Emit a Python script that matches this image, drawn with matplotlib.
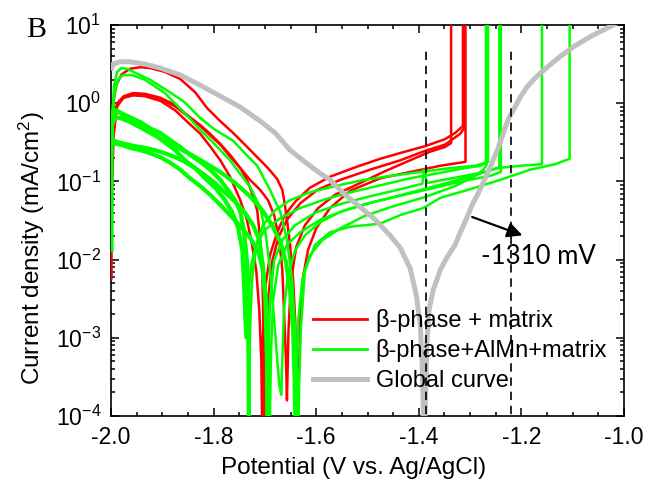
import numpy as np
import matplotlib
matplotlib.use("Agg")
import matplotlib.pyplot as plt
from matplotlib.ticker import LogLocator, MultipleLocator, FuncFormatter, NullFormatter

# ---------------- polarization data: potential (V vs. Ag/AgCl), log10 current density (mA/cm2)
# beta-phase + matrix scans
red1_E = [-1.999, -1.996, -1.990, -1.979, -1.963, -1.943, -1.924, -1.895, -1.865, -1.836, -1.813,
          -1.787, -1.762, -1.739, -1.715, -1.694, -1.676, -1.666, -1.661, -1.657, -1.651, -1.645,
          -1.641, -1.638, -1.636, -1.634, -1.631, -1.626, -1.616, -1.600, -1.573, -1.534, -1.475,
          -1.417, -1.358, -1.309, -1.309]
red1_logj = [-0.47, -0.02, 0.23, 0.37, 0.44, 0.46, 0.45, 0.40, 0.31, 0.14, -0.06,
             -0.23, -0.38, -0.53, -0.69, -0.83, -0.97, -1.11, -1.30, -1.49, -1.81, -2.26,
             -2.77, -3.41, -4.30, -3.54, -2.77, -2.24, -1.88, -1.60, -1.34, -1.12, -0.96,
             -0.88, -0.80, -0.75, 1.10]

red2_E = [-1.999, -1.996, -1.988, -1.975, -1.957, -1.934, -1.904, -1.875, -1.846, -1.826, -1.807,
          -1.787, -1.768, -1.748, -1.735, -1.725, -1.715, -1.709, -1.705, -1.703, -1.701, -1.700,
          -1.698, -1.694, -1.686, -1.674, -1.657, -1.631, -1.598, -1.553, -1.495, -1.436, -1.388,
          -1.349, -1.319, -1.312, -1.312]
red2_logj = [-0.73, -0.21, 0.00, 0.09, 0.13, 0.12, 0.07, -0.02, -0.18, -0.28, -0.39,
             -0.52, -0.66, -0.83, -0.98, -1.15, -1.37, -1.75, -2.13, -2.77, -3.41, -4.30,
             -3.28, -2.52, -2.03, -1.72, -1.49, -1.28, -1.11, -0.98, -0.85, -0.73, -0.61,
             -0.53, -0.39, -0.32, 1.10]

red3_E = [-1.999, -1.998, -1.994, -1.986, -1.975, -1.957, -1.934, -1.904, -1.875, -1.846, -1.826,
          -1.807, -1.787, -1.768, -1.748, -1.735, -1.725, -1.717, -1.711, -1.707, -1.705,
          -1.704, -1.700, -1.690, -1.676, -1.661, -1.641, -1.612, -1.573, -1.524, -1.475, -1.427,
          -1.388, -1.349, -1.329, -1.314, -1.314]
red3_logj = [-1.24, -0.60, -0.15, -0.01, 0.07, 0.10, 0.09, 0.03, -0.09, -0.27, -0.39,
             -0.55, -0.73, -0.94, -1.24, -1.49, -1.81, -2.13, -2.64, -3.28, -4.30,
             -3.03, -2.39, -1.94, -1.65, -1.43, -1.26, -1.08, -0.94, -0.82, -0.71, -0.62,
             -0.55, -0.46, -0.38, -0.29, 1.10]

red4_E = [-1.999, -1.999, -1.998, -1.995, -1.988, -1.975, -1.957, -1.934, -1.904, -1.875, -1.846,
          -1.826, -1.807, -1.787, -1.768, -1.748, -1.729, -1.709, -1.694, -1.682, -1.672, -1.666,
          -1.662, -1.659, -1.657, -1.654, -1.649, -1.639, -1.622, -1.596, -1.563, -1.514, -1.466,
          -1.417, -1.378, -1.349, -1.337, -1.337]
red4_logj = [-2.24, -1.75, -1.11, -0.41, -0.04, 0.08, 0.12, 0.10, 0.05, -0.04, -0.19,
             -0.29, -0.41, -0.53, -0.68, -0.83, -0.98, -1.11, -1.24, -1.43, -1.75, -2.13,
             -2.77, -3.28, -3.80, -2.90, -2.26, -1.84, -1.56, -1.34, -1.17, -1.02, -0.87,
             -0.73, -0.62, -0.56, -0.51, 1.10]

# beta-phase + AlMn + matrix scans
green1_E = [-1.999, -1.999, -1.998, -1.994, -1.988, -1.980, -1.969, -1.953, -1.924, -1.885, -1.856,
            -1.826, -1.797, -1.762, -1.739, -1.715, -1.690, -1.670, -1.657, -1.647, -1.641, -1.637,
            -1.635, -1.633, -1.630, -1.622, -1.602, -1.573, -1.534, -1.475, -1.436, -1.391, -1.358,
            -1.300, -1.241, -1.183, -1.134, -1.106, -1.106]
green1_logj = [-1.81, -0.98, -0.21, 0.23, 0.40, 0.45, 0.44, 0.39, 0.30, 0.14, 0.01,
               -0.19, -0.34, -0.48, -0.64, -0.80, -1.11, -1.39, -1.75, -2.26, -2.90, -3.54,
               -4.30, -3.54, -2.90, -2.13, -1.81, -1.65, -1.58, -1.54, -1.43, -1.34, -1.21,
               -1.10, -0.98, -0.85, -0.78, -0.71, 1.10]

green2_E = [-1.998, -1.994, -1.986, -1.977, -1.959, -1.934, -1.895, -1.856, -1.826, -1.797, -1.768,
            -1.729, -1.709, -1.698, -1.690, -1.682, -1.676, -1.672, -1.668,
            -1.666, -1.663, -1.655, -1.641, -1.622, -1.592, -1.553, -1.505, -1.456, -1.397, -1.339,
            -1.290, -1.247, -1.202, -1.160, -1.160]
green2_logj = [-0.47, 0.10, 0.30, 0.36, 0.36, 0.30, 0.13, -0.13, -0.34, -0.53, -0.73,
               -1.07, -1.33, -1.69, -2.13, -2.77, -3.28, -3.60, -3.73,
               -3.28, -2.64, -2.20, -1.88, -1.69, -1.52, -1.39, -1.29, -1.21, -1.11, -1.01,
               -0.92, -0.83, -0.80, -0.78, 1.10]

green3_E = [-1.999, -1.999, -1.998, -1.990, -1.979, -1.963, -1.943, -1.924, -1.904, -1.885, -1.865,
            -1.846, -1.826, -1.807, -1.787, -1.772, -1.758, -1.748, -1.741, -1.735, -1.733, -1.732,
            -1.731, -1.729, -1.725, -1.717, -1.704, -1.680, -1.651, -1.612, -1.563, -1.514, -1.456,
            -1.397, -1.339, -1.290, -1.269, -1.269]
green3_logj = [-1.88, -0.73, -0.11, -0.09, -0.13, -0.18, -0.24, -0.32, -0.38, -0.47, -0.56,
               -0.66, -0.75, -0.85, -0.98, -1.11, -1.24, -1.39, -1.62, -2.01, -2.52, -3.28,
               -4.30, -2.90, -2.26, -1.81, -1.56, -1.37, -1.24, -1.14, -1.06, -0.99, -0.93,
               -0.88, -0.83, -0.80, -0.76, 1.10]

green4_E = [-1.998, -1.986, -1.973, -1.953, -1.934, -1.914, -1.895, -1.875, -1.856, -1.836, -1.817,
            -1.797, -1.778, -1.764, -1.752, -1.744, -1.741, -1.738, -1.736,
            -1.733, -1.727, -1.717, -1.700, -1.670, -1.631, -1.583, -1.534, -1.475, -1.417, -1.358,
            -1.310, -1.280, -1.265, -1.265]
green4_logj = [-0.15, -0.11, -0.16, -0.25, -0.34, -0.41, -0.50, -0.60, -0.73, -0.83, -0.96,
               -1.08, -1.24, -1.39, -1.60, -1.88, -2.26, -2.77, -2.99,
               -2.52, -2.07, -1.81, -1.62, -1.47, -1.34, -1.23, -1.14, -1.05, -0.96, -0.89,
               -0.83, -0.80, -0.75, 1.10]

green5_E = [-1.998, -1.986, -1.973, -1.953, -1.934, -1.914, -1.895, -1.875, -1.856, -1.836, -1.817,
            -1.797, -1.778, -1.758, -1.739, -1.723, -1.711, -1.704, -1.699, -1.696, -1.695,
            -1.693, -1.690, -1.682, -1.666, -1.641, -1.602, -1.553, -1.495, -1.436, -1.393, -1.390,
            -1.384, -1.319, -1.271, -1.243, -1.243]
green5_logj = [-0.47, -0.50, -0.52, -0.55, -0.57, -0.60, -0.64, -0.69, -0.75, -0.83, -0.92,
               -1.02, -1.14, -1.26, -1.40, -1.56, -1.75, -2.07, -2.52, -3.28, -4.30,
               -3.16, -2.52, -2.01, -1.75, -1.56, -1.40, -1.29, -1.19, -1.10, -1.03, -0.85,
               -1.02, -0.94, -0.88, -0.82, 1.10]

green6_E = [-1.998, -1.982, -1.963, -1.943, -1.924, -1.904, -1.885, -1.865, -1.846, -1.826, -1.807,
            -1.787, -1.768, -1.748, -1.729, -1.713, -1.704, -1.698, -1.694, -1.691,
            -1.688, -1.684, -1.674, -1.657, -1.631, -1.592, -1.544, -1.485, -1.427, -1.368, -1.310,
            -1.261, -1.240, -1.240]
green6_logj = [-0.51, -0.53, -0.57, -0.60, -0.64, -0.69, -0.76, -0.85, -0.96, -1.06, -1.17,
               -1.30, -1.43, -1.57, -1.72, -1.90, -2.13, -2.52, -3.16, -4.30,
               -3.16, -2.52, -2.07, -1.81, -1.65, -1.49, -1.37, -1.26, -1.17, -1.08, -0.99,
               -0.93, -0.88, 1.10]

green7_E = [-1.998, -1.992, -1.982, -1.963, -1.934, -1.904, -1.875, -1.846, -1.817, -1.787, -1.758,
            -1.729, -1.705, -1.686, -1.670, -1.659, -1.651, -1.645, -1.642, -1.640,
            -1.638, -1.635, -1.627, -1.612, -1.588, -1.553, -1.505, -1.446, -1.388, -1.329, -1.290,
            -1.274, -1.268, -1.268]
green7_logj = [-0.28, -0.18, -0.19, -0.24, -0.34, -0.45, -0.55, -0.65, -0.76, -0.88, -1.02,
               -1.19, -1.37, -1.56, -1.77, -2.03, -2.39, -2.90, -3.54, -4.30,
               -3.41, -2.77, -2.26, -1.94, -1.75, -1.60, -1.44, -1.31, -1.20, -1.06, -0.93,
               -0.85, -0.79, 1.10]

# global polarization curve
global_E = [-1.999, -1.996, -1.982, -1.963, -1.934, -1.904, -1.865, -1.826, -1.787, -1.748, -1.709,
            -1.680, -1.651, -1.622, -1.596, -1.573, -1.544, -1.514, -1.485, -1.456, -1.436, -1.417,
            -1.405, -1.397, -1.393, -1.390, -1.387, -1.384, -1.380, -1.372, -1.358, -1.345, -1.329,
            -1.319, -1.308, -1.296, -1.284, -1.272, -1.261, -1.247, -1.235, -1.226, -1.216, -1.202,
            -1.189, -1.169, -1.150, -1.124, -1.099, -1.066, -1.036, -1.021, -1.011]
global_logj = [0.45, 0.50, 0.53, 0.53, 0.50, 0.45, 0.36, 0.23, 0.09, -0.05, -0.23,
               -0.38, -0.60, -0.75, -0.88, -0.98, -1.17, -1.33, -1.49, -1.69, -1.85, -2.11,
               -2.45, -2.84, -3.41, -4.30, -3.80, -3.03, -2.64, -2.39, -2.13, -1.97, -1.81,
               -1.65, -1.49, -1.30, -1.15, -0.98, -0.82, -0.60, -0.38, -0.21, -0.09, 0.08,
               0.21, 0.35, 0.46, 0.60, 0.72, 0.85, 0.95, 1.00, 1.04]

# reference potentials and annotation
marker_potentials = [-1.386, -1.220]
marker_top_logj = 0.68
arrow_from = (-1.296, -1.455)
arrow_to = (-1.198, -1.69)
arrow_text = "-1310 mV"
text_pos = (-1.279, -2.05)

red_curves = [(red1_E, red1_logj), (red2_E, red2_logj), (red3_E, red3_logj), (red4_E, red4_logj)]
green_smooth = [(green1_E, green1_logj), (green2_E, green2_logj)]
green_noisy = [(green3_E, green3_logj), (green4_E, green4_logj), (green5_E, green5_logj),
               (green6_E, green6_logj), (green7_E, green7_logj)]

RED = "#ff0000"
GREEN = "#00ff00"
GRAY = "#c0c0c0"

plt.rcParams["font.family"] = ["Liberation Sans", "DejaVu Sans"]
plt.rcParams["mathtext.fontset"] = "custom"
plt.rcParams["mathtext.rm"] = "Liberation Sans"
plt.rcParams["mathtext.it"] = "Liberation Sans:italic"
plt.rcParams["axes.unicode_minus"] = False

fig = plt.figure(figsize=(6.57, 4.84), dpi=100)
ax = fig.add_axes([111 / 657, 1 - 416 / 484, 513 / 657, 391 / 484])

for E, lj in red_curves:
    ax.plot(E, 10 ** np.asarray(lj), color=RED, lw=1.8, solid_joinstyle="round", zorder=3)

for E, lj in green_smooth:
    ax.plot(E, 10 ** np.asarray(lj), color=GREEN, lw=1.8, solid_joinstyle="round", zorder=4)

for E, lj in green_noisy:
    j = 10 ** np.asarray(lj)
    ax.plot(E, j, color=GREEN, lw=1.8, solid_joinstyle="round", zorder=4)
    k = int(np.argmin(lj)) + 1
    ax.plot(E[:k], j[:k], color=GREEN, lw=3.0, solid_joinstyle="round", zorder=4)

ax.plot(global_E, 10 ** np.asarray(global_logj), color=GRAY, lw=3.6,
        solid_joinstyle="round", zorder=5)

for x in marker_potentials:
    ax.plot([x, x], [1e-5, 10 ** marker_top_logj], color="black", lw=1.2,
            dashes=(5, 3.5), zorder=6)

ax.annotate("", xy=(arrow_to[0], 10 ** arrow_to[1]),
            xytext=(arrow_from[0], 10 ** arrow_from[1]),
            arrowprops=dict(arrowstyle="-|>,head_length=0.9,head_width=0.45",
                            color="black", lw=1.6, shrinkA=0, shrinkB=0),
            zorder=7)
ax.text(text_pos[0], 10 ** text_pos[1], arrow_text, fontsize=18.5, family=["Lato", "DejaVu Sans"],
        ha="left", va="baseline", zorder=7)

ax.set_xlim(-2.0, -1.0)
ax.set_yscale("log")
ax.set_ylim(1e-4, 10)

ax.xaxis.set_major_locator(MultipleLocator(0.2))
ax.xaxis.set_minor_locator(MultipleLocator(0.05))
ax.xaxis.set_major_formatter(FuncFormatter(lambda v, p: f"{v:.1f}"))
ax.yaxis.set_major_locator(LogLocator(base=10, numticks=10))
ax.yaxis.set_minor_locator(LogLocator(base=10, subs=np.arange(2, 10), numticks=20))
ax.yaxis.set_minor_formatter(NullFormatter())
ax.yaxis.set_major_formatter(FuncFormatter(
    lambda v, p: r"$\mathregular{10^{%d}}$" % int(round(np.log10(v)))))

ax.tick_params(which="both", direction="in", top=True, right=True, width=1.1)
ax.tick_params(which="major", length=6, labelsize=16.5, pad=7)
ax.tick_params(which="minor", length=3)
for s in ax.spines.values():
    s.set_linewidth(1.2)

fig.text(354 / 657, 1 - 468 / 484, "Potential (V vs. Ag/AgCl)", fontsize=17.5,
         ha="center", va="center")
fig.text(32 / 657, 1 - 248 / 484, r"Current density (mA/cm$^{2}$)", fontsize=17.5,
         ha="center", va="center", rotation=90)
fig.text(26 / 657, 1 - 37 / 484, "B", fontsize=21.5, family=["Liberation Serif"],
         ha="left", va="baseline")

handles = [
    plt.Line2D([], [], color=RED, lw=2.0),
    plt.Line2D([], [], color=GREEN, lw=2.0),
    plt.Line2D([], [], color=GRAY, lw=3.6),
]
labels = ["β-phase + matrix", "β-phase+AlMn+matrix", "Global curve"]
ax.legend(handles, labels, loc="upper left", bbox_to_anchor=(0.394, 0.274),
          frameon=False, fontsize=17, handlelength=2.3, handletextpad=0.35,
          labelspacing=0.32, borderpad=0, borderaxespad=0)

fig.savefig("out.png", dpi=100)
